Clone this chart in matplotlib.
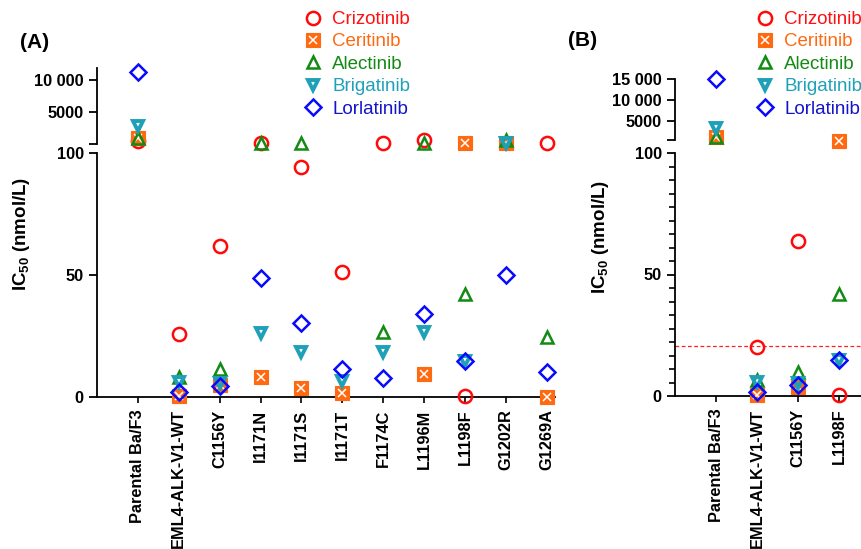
import numpy as np
import matplotlib
matplotlib.use("Agg")
import matplotlib.pyplot as plt
from matplotlib.lines import Line2D

plt.rcParams['font.family'] = ['Liberation Sans', 'DejaVu Sans']
plt.rcParams['mathtext.fontset'] = 'custom'
plt.rcParams['mathtext.rm'] = 'Liberation Sans:bold'
plt.rcParams['mathtext.bf'] = 'Liberation Sans:bold'

nan = np.nan
drugs = ['Crizotinib', 'Ceritinib', 'Alectinib', 'Brigatinib', 'Lorlatinib']

cats_A = ['Parental Ba/F3', 'EML4-ALK-V1-WT', 'C1156Y', 'I1171N', 'I1171S', 'I1171T',
          'F1174C', 'L1196M', 'L1198F', 'G1202R', 'G1269A']
criz_A = [470, 25.7, 61.9, 150, 94.1, 51.4, 150, 550, 0.4, nan, 150]
cer_A = [950, 0.5, 5.0, 8.0, 3.7, 1.8, nan, 9.4, 150, 150, 0.2]
alec_A = [950, 8.3, 11.5, 150, 150, nan, 26.8, 120, 42.2, 600, 24.7]
brig_A = [2800, 6.0, 5.6, 26.4, 18.3, 6.7, 18.3, 26.8, 14.9, 150, nan]
lorl_A = [11250, 1.9, 4.7, 48.9, 30.5, 11.3, 7.9, 34.0, 14.9, 50.0, 10.1]

cats_B = ['Parental Ba/F3', 'EML4-ALK-V1-WT', 'C1156Y', 'L1198F']
criz_B = [nan, 20.3, 63.8, 0.4]
cer_B = [1200, 0.3, 3.6, 300]
alec_B = [1200, 6.6, 9.7, 42.0]
brig_B = [3400, 5.6, 5.4, 14.8]
lorl_B = [14900, 1.8, 4.5, 14.8]
threshold_B = 20.5

colors = {'Crizotinib': '#ff0a0a', 'Ceritinib': '#ff6a10', 'Alectinib': '#138a13',
          'Brigatinib': '#1ea0b8', 'Lorlatinib': '#0a0aff'}
text_colors = ['#ff1010', '#ff6a10', '#138a13', '#1ea0b8', '#1414c8']

W, H = 862, 549
fig = plt.figure(figsize=(W / 100, H / 100), dpi=100)


def fx(px):
    return px / W


def fy(py):
    return 1 - py / H


def styles(name):
    c = colors[name]
    if name == 'Crizotinib':
        return [dict(marker='o', ms=9.5, mfc='none', mec=c, mew=1.8)]
    if name == 'Ceritinib':
        return [dict(marker='s', ms=10.3, mfc=c, mec=c, mew=0.8),
                dict(marker='x', ms=5.2, mfc='none', mec='white', mew=1.1)]
    if name == 'Alectinib':
        return [dict(marker='^', ms=9, mfc='none', mec=c, mew=1.8)]
    if name == 'Brigatinib':
        return [dict(marker='v', ms=7.6, mfc='none', mec=c, mew=2.8)]
    return [dict(marker='D', ms=8.5, mfc='none', mec=c, mew=1.8)]


def panel(series, cats, ax_box, top_box, top_lim, top_ticks, top_labels, xlim, minor):
    ax = fig.add_axes(ax_box)
    axt = fig.add_axes(top_box)
    x = np.arange(len(cats))
    for name, vals in zip(drugs, series):
        v = np.array(vals, dtype=float)
        low = np.where(v <= 100, v, np.nan)
        high = np.where(v > 100, v, np.nan)
        for st in styles(name):
            ax.plot(x, low, ls='none', clip_on=False, zorder=3, **st)
            axt.plot(x, high, ls='none', clip_on=False, zorder=3, **st)
    ax.set_xlim(*xlim)
    ax.set_ylim(0, 100)
    axt.set_xlim(*xlim)
    axt.set_ylim(*top_lim)
    for a in (ax, axt):
        a.spines['top'].set_visible(False)
        a.spines['right'].set_visible(False)
        a.spines['left'].set_linewidth(1.3)
        a.spines['bottom'].set_linewidth(1.3)
        a.patch.set_alpha(0)
    axt.spines['bottom'].set_visible(False)
    axt.set_xticks([])
    axt.set_yticks(top_ticks, labels=top_labels)
    ax.set_yticks([0, 50, 100])
    if minor:
        ax.set_yticks(np.linspace(0, 100, 19), minor=True)
        ax.tick_params(axis='y', which='minor', length=4, width=1.2)
    ax.set_xticks(x, labels=cats, rotation=90)
    for a in (ax, axt):
        a.tick_params(axis='y', which='major', length=5.5, width=1.3, pad=4,
                      labelsize=11.8)
        for lab in a.get_yticklabels():
            lab.set_fontweight('bold')
    ax.tick_params(axis='x', length=4, width=1.2, pad=5, labelsize=11.8)
    for lab in ax.get_xticklabels():
        lab.set_fontweight('bold')
    return ax, axt


# Panel A
axA, axAt = panel([criz_A, cer_A, alec_A, brig_A, lorl_A], cats_A,
                  [fx(97), fy(397), fx(555) - fx(97), fy(153) - fy(397)],
                  [fx(97), fy(144), fx(555) - fx(97), fy(68) - fy(144)],
                  (0, 11900), [0, 5000, 10000], ['', '5000', '10 000'],
                  (-1, 10.2), False)

# Panel B
axB, axBt = panel([criz_B, cer_B, alec_B, brig_B, lorl_B], cats_B,
                  [fx(675), fy(396), fx(862) - fx(675), fy(153) - fy(396)],
                  [fx(675), fy(140), fx(862) - fx(675), fy(79) - fy(140)],
                  (500, 15000), [500, 5000, 10000, 15000], ['', '5000', '10 000', '15 000'],
                  (-1, 3.56), True)
axB.axhline(threshold_B, color='#ff2020', ls=(0, (3, 2)), lw=0.9, zorder=1, clip_on=False)

# y labels
ylab = r'IC$_{\mathbf{50}}$ (nmol/L)'
fig.text(fx(22), fy(234), ylab, rotation=90, ha='center', va='center',
         fontsize=13.5, fontweight='bold')
fig.text(fx(601), fy(237), ylab, rotation=90, ha='center', va='center',
         fontsize=13.5, fontweight='bold')

# panel letters
fig.text(fx(20), fy(43), '(A)', fontsize=15, fontweight='bold', ha='left', va='center')
fig.text(fx(568), fy(41), '(B)', fontsize=15, fontweight='bold', ha='left', va='center')

# legends
handles = []
for name in drugs:
    hs = tuple(Line2D([], [], ls='none', **st) for st in styles(name))
    handles.append(hs if len(hs) > 1 else hs[0])

for x0 in (304, 756):
    leg = fig.legend(handles, drugs, loc='upper left',
                     bbox_to_anchor=(fx(x0), fy(11)), frameon=False,
                     fontsize=13.5, handlelength=1.0, handletextpad=0.5,
                     labelspacing=0.28, borderpad=0, borderaxespad=0,
                     labelcolor=text_colors)

fig.savefig('out.png', dpi=100)
